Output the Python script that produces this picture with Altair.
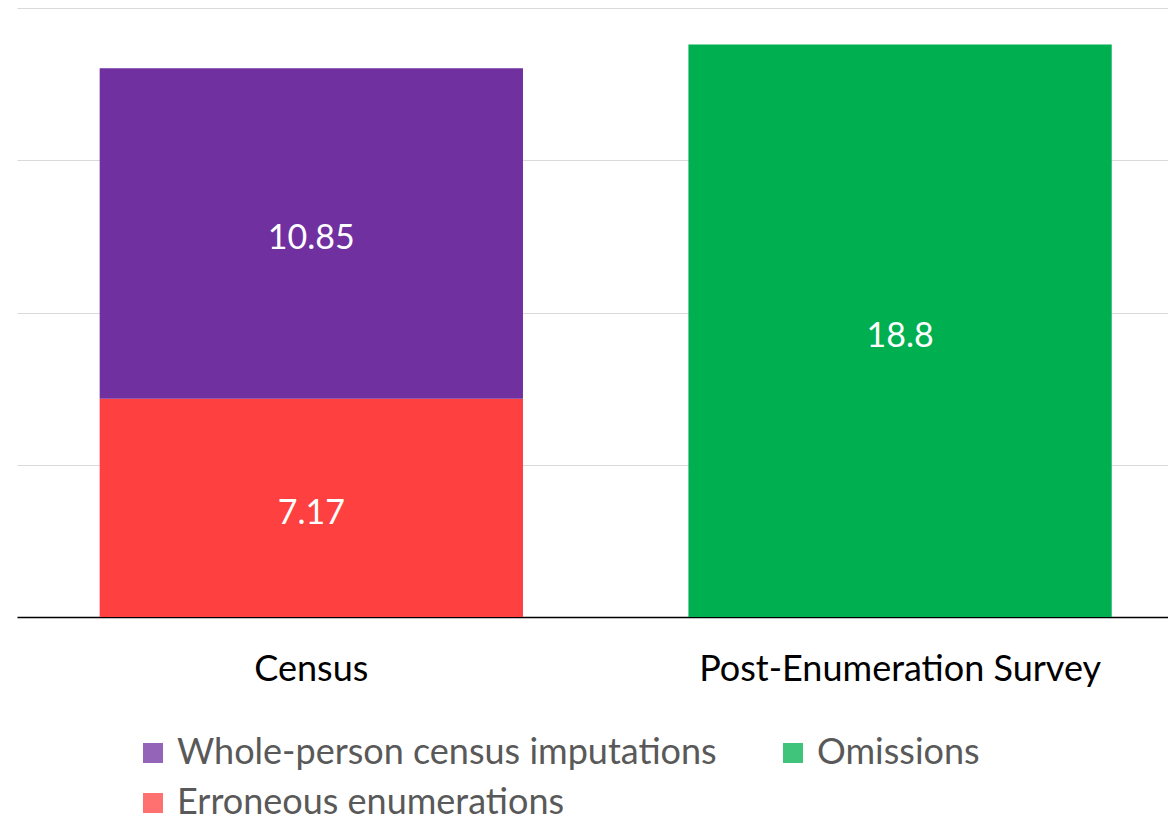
import altair as alt
import pandas as pd

groups = ["Census", "Census", "Post-Enumeration Survey"]
series = ["Erroneous enumerations", "Whole-person census imputations", "Omissions"]
values = [7.17, 10.85, 18.8]
stack_order = [0, 1, 0]
labels = ["7.17", "10.85", "18.8"]

group_order = ["Census", "Post-Enumeration Survey"]
legend_order = ["Whole-person census imputations", "Omissions", "Erroneous enumerations"]
bar_colors = ["#7030a0", "#00b050", "#ff4040"]
y_ticks = [0, 5, 10, 15, 20]

df = pd.DataFrame({
    "group": groups,
    "series": series,
    "value": values,
    "order": stack_order,
    "label": labels,
})

FONT = "Lato"

x = alt.X(
    "group:N",
    sort=group_order,
    title=None,
    scale=alt.Scale(paddingInner=0.281, paddingOuter=0.118, align=0.595),
    axis=alt.Axis(
        labelAngle=0, labelFont=FONT, labelFontSize=36, labelColor="#000000",
        labelPadding=35, ticks=False, domainColor="#000000", domainWidth=1.5,
        grid=False, labelLimit=1000,
    ),
)

base = alt.Chart(df).transform_stack(
    stack="value", groupby=["group"], as_=["y0", "y1"],
    sort=[alt.SortField("order", order="ascending")],
).transform_calculate(mid="(datum.y0 + datum.y1) / 2")

bars = base.mark_bar().encode(
    x=x,
    y=alt.Y(
        "y0:Q", title=None,
        scale=alt.Scale(domain=[0, 20], nice=False),
        axis=alt.Axis(values=y_ticks, labels=False, ticks=False, domain=False,
                      gridColor="#d9d9d9", gridWidth=1),
    ),
    y2="y1:Q",
    color=alt.Color(
        "series:N",
        scale=alt.Scale(domain=legend_order, range=bar_colors),
        legend=alt.Legend(
            orient="none", legendX=118, legendY=727, columns=2, direction="horizontal",
            title=None,
            symbolType="square", symbolSize=400, symbolStrokeWidth=0,
            symbolOpacity=0.75,
            labelFont=FONT, labelFontSize=36, labelColor="#595959",
            labelOffset=6, rowPadding=14, columnPadding=58, padding=0,
            labelLimit=1000,
        ),
    ),
)

texts = base.mark_text(color="white", font=FONT, fontSize=34, baseline="middle", dy=6).encode(
    x=x,
    y="mid:Q",
    text="label:N",
)

chart = alt.layer(bars, texts).properties(
    width=1151, height=609,
    padding={"left": 9, "top": 0, "right": 0, "bottom": 0},
    background="white",
).configure_view(stroke=None)

chart.save("out.html", embed_options={"renderer": "svg", "actions": False})
